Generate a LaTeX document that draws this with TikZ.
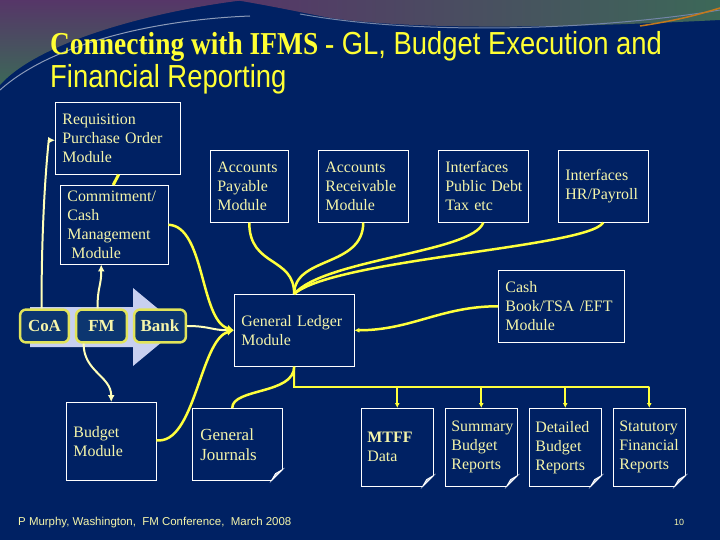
\documentclass[tikz,border=0pt]{standalone}
\usepackage{fontspec}
\setmainfont{Liberation Serif}
\newfontfamily\headserif[FakeStretch=0.86]{Liberation Serif}
\newfontfamily\headsans[FakeStretch=0.86]{Liberation Sans}
\newfontfamily\footsans{Liberation Sans}
\usetikzlibrary{arrows.meta, positioning, calc}
\definecolor{slidenavy}{RGB}{0, 33, 99}
\definecolor{titleyellow}{RGB}{255, 255, 51}
\definecolor{paletext}{RGB}{245, 245, 170}
\definecolor{linkyellow}{RGB}{255, 255, 60}
\definecolor{paleyellow}{RGB}{255, 255, 185}
\definecolor{pillblue}{RGB}{12, 54, 112}
\definecolor{pillrim}{RGB}{225, 228, 90}
\definecolor{flowlav}{RGB}{200, 208, 240}
\definecolor{swirlpurple}{RGB}{86, 54, 104}
\definecolor{swirlgreen}{RGB}{60, 104, 88}

% folded corner on the report boxes
\newcommand{\dogear}[1]{%
  \fill[slidenavy] ([xshift=-12pt,yshift=-1pt]#1.south east) -- ([xshift=1pt,yshift=-1pt]#1.south east) -- ([xshift=1pt,yshift=12pt]#1.south east) -- cycle;
  \draw[white, line width=0.8pt] ([xshift=-11pt]#1.south east) -- ([yshift=11pt]#1.south east);
  \filldraw[draw=white, fill=white!80!slidenavy, line width=0.8pt] ([xshift=-11pt]#1.south east) -- ([yshift=11pt]#1.south east) -- ([xshift=-7pt,yshift=7pt]#1.south east) -- cycle;
}

\begin{document}
\begin{tikzpicture}[x=1bp, y=-1bp,
  box/.style={draw=white, line width=0.8pt, fill=slidenavy, anchor=north west, align=left, inner xsep=7pt, inner ysep=2pt, text=paletext, font=\fontsize{16}{19}\selectfont},
  report/.style={box, inner xsep=6pt, text width=60pt, minimum height=78pt},
  pill/.style={draw=pillrim, line width=2.5pt, fill=pillblue, rounded corners=6pt, minimum height=33pt, inner sep=0pt, text=paletext, font=\bfseries\fontsize{17}{19}\selectfont},
  link/.style={draw=linkyellow, line width=2.5pt},
  palelink/.style={draw=paleyellow, line width=2pt},
  arrowed/.style={-{Latex[length=7pt, width=7pt]}},
  smallarrowed/.style={-{Latex[length=5pt, width=5pt]}}
]
\useasboundingbox (0,0) rectangle (720,540);
\fill[slidenavy] (0,0) rectangle (720,540);

% swirl at the top
\shade[top color=swirlpurple, bottom color=swirlgreen] (0,0) -- (245,0) .. controls (160,10) and (40,40) .. (0,85) -- cycle;
\draw[white!55!slidenavy, line width=1pt] (0,90) .. controls (50,45) and (150,20) .. (250,16);
\shade[left color=swirlpurple, right color=swirlgreen] (235,0) -- (720,0) -- (720,20) .. controls (600,26) and (430,32) .. (330,18) .. controls (290,10) and (260,4) .. (235,0) -- cycle;
\draw[white!45!slidenavy, line width=1pt] (300,14) .. controls (420,36) and (600,30) .. (720,10);
\draw[orange!70!swirlgreen, line width=1.5pt] (640,26) .. controls (680,20) and (700,14) .. (720,8);

% title
\node[anchor=base west, inner sep=0pt, text=titleyellow, font=\fontsize{32}{34}\selectfont] (title) at (50,55)
  {{\headserif\bfseries Connecting with IFMS -}{\headsans\ GL, Budget Execution and}};
\node[anchor=base west, inner sep=0pt, text=titleyellow, font=\headsans\fontsize{32}{34}\selectfont] (subtitle) at (50,88)
  {Financial Reporting};

% flow arrow behind CoA / FM / Bank
\fill[flowlav] (30,307) -- (133,307) -- (133,288) -- (180,327) -- (133,366) -- (133,347) -- (30,347) -- cycle;

% modules
\node[box, text width=111pt, minimum height=72pt] (req) at (55,102) {Requisition\\Purchase~Order\\Module};
\node[box, text width=94pt, minimum height=79pt] (com) at (60,185) {Commitment/\\Cash\\Management\\\hspace*{4pt}Module};
\node[box, text width=64pt, minimum height=72pt] (ap) at (210,150) {Accounts\\Payable\\Module};
\node[box, text width=76pt, minimum height=72pt] (ar) at (318,150) {Accounts\\Receivable\\Module};
\node[box, text width=76pt, minimum height=72pt] (pd) at (438,150) {Interfaces\\Public~Debt\\Tax~etc};
\node[box, text width=76pt, minimum height=72pt] (hr) at (558,150) {Interfaces\\HR/Payroll};
\node[box, text width=106pt, minimum height=72pt] (gl) at (234,294) {General~Ledger\\Module};
\node[box, text width=112pt, minimum height=72pt] (cash) at (498,270) {Cash\\Book/TSA~/EFT\\Module};
\node[box, text width=76pt, minimum height=78pt] (bud) at (66,402) {Budget\\Module};
\node[box, text width=74pt, inner xsep=8pt, minimum height=72pt, font=\fontsize{17}{20}\selectfont] (gj) at (192,408) {General\\Journals};

% reports
\node[report] (mtff) at (361,408) {\textbf{MTFF}\\Data};
\node[report] (sum) at (445,408) {Summary\\Budget\\Reports};
\node[report] (det) at (529,408) {Detailed\\Budget\\Reports};
\node[report] (stat) at (613,408) {Statutory\\Financial\\Reports};
\foreach \doc in {gj, mtff, sum, det, stat}
  \dogear{\doc};

% CoA, FM, Bank
\node[pill, minimum width=49pt] (coa) at (44.5,326) {CoA};
\node[pill, minimum width=51pt] (fm) at (101.5,326) {FM};
\node[pill, minimum width=52pt] (bank) at (160,326) {Bank};

% left column links
\draw[palelink, arrowed] ([xshift=-3pt]coa.north) .. controls +(0,-110) and +(-6,0) .. ([yshift=-2pt]req.west);
\draw[palelink, arrowed] ([xshift=-4pt]fm.north) .. controls +(0,-22) and +(0,22) .. ([xshift=-13pt]com.south);
\draw[link, line width=3pt] ([xshift=1pt]req.south) -- ([xshift=-1pt]com.north);
\draw[palelink, arrowed] ([xshift=-18pt]fm.south) .. controls +(0,28) and +(0,-26) .. (bud.north);

% into the general ledger
\draw[palelink, arrowed] (bank.east) .. controls +(22,0) and +(-22,0) .. (gl.west);
\draw[link, arrowed] (com.east) .. controls (205,226) and (200,320) .. (gl.west);
\draw[link, arrowed] ([yshift=1pt]bud.east) .. controls (195,445) and (200,340) .. (gl.west);
\draw[link] (ap.south) .. controls +(0,45) and +(0,-38) .. (gl.north);
\draw[link] (ar.south) .. controls +(0,45) and +(0,-38) .. (gl.north);
\draw[link] (pd.south) .. controls +(-10,30) and +(30,-35) .. (gl.north);
\draw[link] (hr.south) .. controls +(-15,25) and +(40,-35) .. (gl.north);
\draw[link, smallarrowed] (cash.west) to[out=180, in=0] (gl.east);

% out of the general ledger
\draw[link] (gl.south) .. controls +(0,28) and +(0,-20) .. ([xshift=-5pt]gj.north);
\coordinate (bus) at (294,387);
\draw[link, line width=2pt] (gl.south) -- (bus) -- (bus -| stat.north);
\foreach \rep in {mtff, sum, det, stat}
  \draw[link, line width=2pt, smallarrowed] (bus -| \rep.north) -- (\rep.north);

% footer
\node[anchor=base west, inner sep=0pt, text=paletext, font=\footsans\fontsize{11.5}{13}\selectfont] (credit) at (18,525)
  {P Murphy, Washington,\ \ FM Conference,\ \ March 2008};
\node[anchor=base, inner sep=0pt, text=paletext, font=\footsans\fontsize{9}{11}\selectfont] (pageno) at (679,525) {10};
\end{tikzpicture}
\end{document}
